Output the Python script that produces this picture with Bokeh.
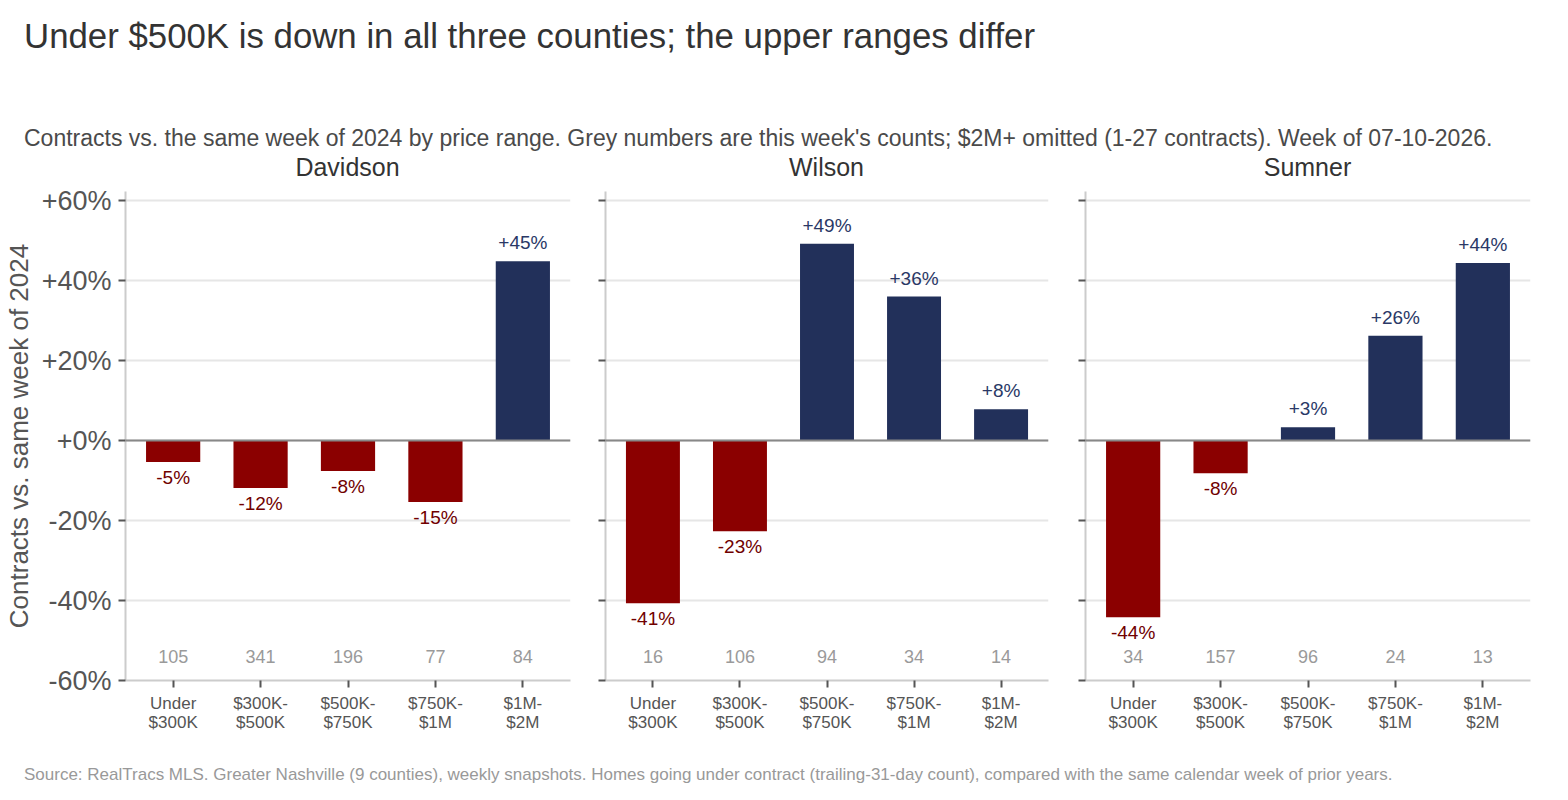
from bokeh.plotting import figure
from bokeh.models import (ColumnDataSource, Range1d, FactorRange, Span, Div, FixedTicker,
                          CategoricalAxis, CustomJSTickFormatter)
from bokeh.layouts import column, row
from bokeh.embed import file_html
from bokeh.resources import INLINE

FONT = "Liberation Sans"

# ---------------- data ----------------
counties = ["Davidson", "Wilson", "Sumner"]
price_ranges = ["Under $300K", "$300K-$500K", "$500K-$750K", "$750K-$1M", "$1M-$2M"]
tick_line1 = ["Under", "$300K-", "$500K-", "$750K-", "$1M-"]
tick_line2 = ["$300K", "$500K", "$750K", "$1M", "$2M"]

pct_davidson = [-5.4, -11.9, -7.6, -15.4, 44.8]
pct_wilson = [-40.7, -22.7, 49.2, 36.0, 7.8]
pct_sumner = [-44.2, -8.2, 3.3, 26.2, 44.4]

count_davidson = [105, 341, 196, 77, 84]
count_wilson = [16, 106, 94, 34, 14]
count_sumner = [34, 157, 96, 24, 13]

y_ticks = [-60, -40, -20, 0, 20, 40, 60]
y_tick_labels = ["-60%", "-40%", "-20%", "+0%", "+20%", "+40%", "+60%"]

title_text = "Under $500K is down in all three counties; the upper ranges differ"
subtitle_text = ("Contracts vs. the same week of 2024 by price range. Grey numbers are this week's counts; "
                 "$2M+ omitted (1-27 contracts). Week of 07-10-2026.")
footer_text = ("Source: RealTracs MLS. Greater Nashville (9 counties), weekly snapshots. Homes going under contract "
               "(trailing-31-day count), compared with the same calendar week of prior years.")
y_axis_label = "Contracts vs. same week of 2024"

RED = "#8b0000"
NAVY = "#22305a"
RED_TXT = "#700000"
NAVY_TXT = "#2a3866"

panel_data = [
    (counties[0], pct_davidson, count_davidson),
    (counties[1], pct_wilson, count_wilson),
    (counties[2], pct_sumner, count_sumner),
]

# width, min_border_left, min_border_right
geom = [(585, 125, 15), (478, 20, 15), (497, 22, 30)]

COUNT_Y = -54


def style_x_axis(ax, labels, first):
    ax.formatter = CustomJSTickFormatter(args=dict(m=dict(zip(price_ranges, labels))),
                                         code="return (tick in m) ? m[tick] : tick;")
    ax.major_label_text_font = FONT
    ax.major_label_text_font_size = "17px"
    ax.major_label_text_color = "#555555"
    ax.minor_tick_line_color = None
    if first:
        ax.axis_line_color = "#cccccc"
        ax.axis_line_width = 2
        ax.major_tick_line_color = "#555555"
        ax.major_tick_line_width = 2
        ax.major_tick_out = 7
        ax.major_tick_in = 0
        ax.major_label_standoff = 6
    else:
        ax.axis_line_color = None
        ax.major_tick_line_color = None
        ax.major_tick_out = 0
        ax.major_tick_in = 0
        ax.major_label_standoff = -3


def make_panel(i, pcts, counts):
    w, bl, br = geom[i]
    p = figure(width=w, height=563, x_range=FactorRange(factors=price_ranges, range_padding=0.018),
               y_range=Range1d(-60, 62.25), output_backend="svg", toolbar_location=None,
               min_border_left=bl, min_border_right=br, min_border_top=14, min_border_bottom=60)
    p.outline_line_color = None
    p.background_fill_color = "white"
    p.border_fill_color = "white"

    colors = [NAVY if v >= 0 else RED for v in pcts]
    src = ColumnDataSource(dict(x=price_ranges, top=pcts, color=colors))
    p.vbar(x="x", top="top", bottom=0, width=0.62, fill_color="color", line_color=None, source=src)

    p.add_layout(Span(location=0, dimension="width", line_color="#888888", line_width=2))

    pos = dict(x=[c for c, v in zip(price_ranges, pcts) if v >= 0],
               y=[v for v in pcts if v >= 0],
               t=[f"{v:+.0f}%" for v in pcts if v >= 0])
    neg = dict(x=[c for c, v in zip(price_ranges, pcts) if v < 0],
               y=[v for v in pcts if v < 0],
               t=[f"{v:+.0f}%" for v in pcts if v < 0])
    p.text(x="x", y="y", text="t", source=ColumnDataSource(pos), text_align="center",
           text_baseline="bottom", y_offset=-8, text_font_size="19px", text_color=NAVY_TXT,
           text_font={"value": FONT})
    p.text(x="x", y="y", text="t", source=ColumnDataSource(neg), text_align="center",
           text_baseline="top", y_offset=5, text_font_size="19px", text_color=RED_TXT,
           text_font={"value": FONT})
    cnt = dict(x=price_ranges, y=[COUNT_Y] * len(counts), t=[str(c) for c in counts])
    p.text(x="x", y="y", text="t", source=ColumnDataSource(cnt), text_align="center",
           text_baseline="middle", text_font_size="18px", text_color="#9a9a9a",
           text_font={"value": FONT})

    p.xgrid.grid_line_color = None
    p.ygrid.grid_line_color = "#e6e6e6"
    p.ygrid.grid_line_width = 2
    p.ygrid.ticker = FixedTicker(ticks=y_ticks)

    p.yaxis.ticker = FixedTicker(ticks=y_ticks)
    p.yaxis.axis_line_color = "#cccccc"
    p.yaxis.axis_line_width = 2
    p.yaxis.major_tick_line_color = "#555555"
    p.yaxis.major_tick_line_width = 2
    p.yaxis.major_tick_out = 7
    p.yaxis.major_tick_in = 0
    p.yaxis.minor_tick_line_color = None
    p.yaxis.major_label_text_font = FONT
    p.yaxis.major_label_text_color = "#555555"
    if i == 0:
        p.yaxis.major_label_overrides = {t: l for t, l in zip(y_ticks, y_tick_labels)}
        p.yaxis.major_label_text_font_size = "27px"
        p.yaxis.major_label_standoff = 7
        p.yaxis.axis_label = y_axis_label
        p.yaxis.axis_label_text_font = FONT
        p.yaxis.axis_label_text_font_size = "26px"
        p.yaxis.axis_label_text_font_style = "normal"
        p.yaxis.axis_label_text_color = "#555555"
        p.yaxis.axis_label_standoff = 5
    else:
        p.yaxis.major_label_overrides = {t: "" for t in y_ticks}
        p.yaxis.major_label_standoff = 0

    style_x_axis(p.xaxis[0], tick_line1, True)
    ax2 = CategoricalAxis()
    style_x_axis(ax2, tick_line2, False)
    p.add_layout(ax2, "below")
    return p


panels = [make_panel(i, v, c) for i, (n, v, c) in enumerate(panel_data)]

name_divs = []
for i, (n, v, c) in enumerate(panel_data):
    w, bl, br = geom[i]
    name_divs.append(Div(text=(f'<div style="font-family:\'{FONT}\';font-size:25px;color:#333;'
                               f'line-height:22px;text-align:center;width:{w - bl - br}px;'
                               f'margin:0 0 0 {bl}px;padding:2px 0 0 0;white-space:nowrap;">{n}</div>'),
                         width=w, height=23, margin=0))

header_div = Div(text=(f'<div style="font-family:\'{FONT}\';margin:0;padding:18px 0 0 24px;white-space:nowrap;">'
                       f'<div style="font-size:34.8px;color:#333;line-height:36px;margin:0;">{title_text}</div>'
                       f'<div style="font-size:23px;color:#4a4a4a;line-height:18px;margin:75px 0 0 0;">'
                       f'{subtitle_text}</div></div>'),
                 width=1568, height=154, margin=0)
foot_div = Div(text=f'<div style="font-family:\'{FONT}\';font-size:17px;color:#999;line-height:18px;'
                    f'padding:26px 0 0 24px;margin:0;white-space:nowrap;">{footer_text}</div>',
               width=1568, height=60, margin=0)

layout = column(header_div, row(*name_divs, spacing=0), row(*panels, spacing=0), foot_div, spacing=0)

open("out.html", "w").write(file_html(layout, INLINE))
